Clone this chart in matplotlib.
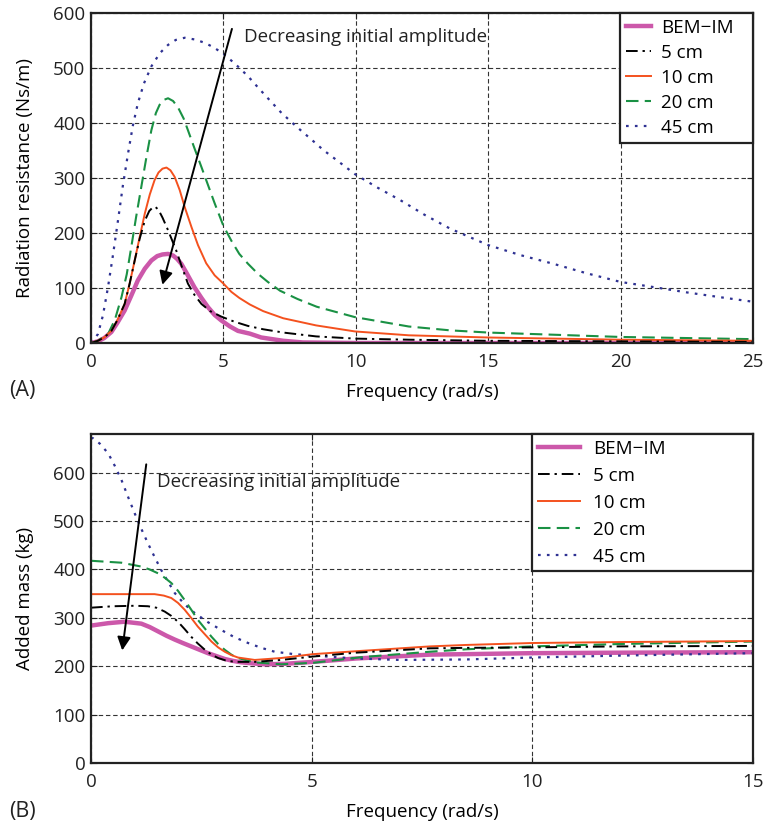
import numpy as np
import matplotlib
matplotlib.use('Agg')
import matplotlib.pyplot as plt

plt.rcParams['font.family'] = ['Open Sans', 'DejaVu Sans']

# --- (A) radiation resistance, Ns/m ---
freq_a_bem = [0, 0.26, 0.5, 0.77, 1.0, 1.27, 1.52, 1.77, 2.03, 2.28, 2.5, 2.7, 2.91, 3.1,
              3.25, 3.41, 3.6, 3.91, 4.17, 4.42, 4.67, 4.92, 5.25, 5.55, 6.0, 6.43, 7.26,
              8.0, 10, 15, 20, 25]
res_bem = [0, 3, 9, 20, 37, 59, 86, 114, 135, 150, 158, 161, 162, 159,
           153, 144, 128, 101, 82, 65, 51, 41, 30, 22, 17, 10, 4,
           1, 0, 0, 0, 0]

freq_a_5 = [0, 0.26, 0.5, 0.77, 1.0, 1.27, 1.46, 1.65, 1.84, 2.03, 2.2, 2.32, 2.42, 2.55,
            2.7, 2.91, 3.22, 3.45, 3.66, 3.9, 4.17, 4.5, 4.92, 5.4, 5.93, 6.5, 7.26, 8.5,
            9.97, 12, 15, 20, 25]
res_5 = [0, 4, 10, 22, 42, 71, 108, 150, 190, 222, 240, 246, 248, 242,
         228, 205, 168, 136, 108, 88, 71, 58, 48, 39, 31, 25, 19, 12,
         8, 6, 4, 3, 2]

freq_a_10 = [0, 0.26, 0.5, 0.77, 1.0, 1.27, 1.46, 1.65, 1.84, 2.03, 2.22, 2.40, 2.55, 2.7,
             2.85, 3.0, 3.16, 3.35, 3.54, 3.8, 4.04, 4.35, 4.67, 5.0, 5.3, 5.6, 6.0, 6.5,
             7.26, 8.5, 9.97, 12, 15, 20, 25]
res_10 = [0, 4, 10, 22, 42, 71, 108, 150, 193, 235, 270, 296, 310, 317,
          319, 314, 302, 278, 247, 210, 178, 145, 123, 108, 93, 82, 70, 58,
          45, 32, 21, 14, 10, 6, 4]

freq_a_20 = [0, 0.26, 0.64, 0.9, 1.15, 1.35, 1.52, 1.7, 1.90, 2.1, 2.28, 2.45, 2.59, 2.75,
             2.91, 3.1, 3.29, 3.5, 3.66, 3.9, 4.17, 4.42, 4.67, 5.0, 5.3, 5.6, 5.93, 6.3,
             6.68, 7.14, 7.8, 8.52, 9.97, 12, 13.56, 15, 17.5, 20, 22.5, 25]
res_20 = [0, 4, 16, 42, 83, 125, 174, 228, 284, 340, 387, 418, 433, 442,
          445, 440, 428, 408, 387, 355, 320, 287, 254, 213, 186, 162, 144, 126,
          111, 95, 80, 66, 47, 30, 23, 19, 15, 11, 9, 7]

freq_a_45 = [0, 0.26, 0.45, 0.64, 0.83, 1.02, 1.2, 1.40, 1.58, 1.77, 2.0, 2.28, 2.6, 2.91,
             3.2, 3.54, 3.9, 4.29, 4.65, 5.05, 5.5, 5.93, 6.3, 6.68, 7.2, 7.77, 8.3, 8.77,
             9.4, 9.97, 10.8, 11.67, 12.6, 13.56, 15, 16.2, 17.46, 18.7, 20, 21.2, 22.5,
             23.8, 25]
res_45 = [0, 16, 50, 101, 160, 223, 285, 345, 395, 436, 472, 503, 527, 542,
          551, 555, 552, 546, 537, 524, 505, 485, 465, 445, 418, 393, 371, 351,
          328, 307, 283, 260, 233, 208, 178, 160, 144, 127, 111, 102, 92,
          83, 75]

# --- (B) added mass, kg ---
freq_b_bem = [0, 0.39, 0.76, 1.14, 1.33, 1.52, 1.71, 1.90, 2.08, 2.27, 2.46, 2.65, 2.84,
              3.03, 3.22, 3.41, 3.65, 3.94, 4.39, 5.03, 6.0, 7.68, 8.5, 10, 12, 15]
mass_bem = [284, 289, 292, 288, 281, 272, 263, 255, 248, 241, 234, 227, 221,
            215, 211, 208, 206, 204, 205, 209, 216, 224, 225, 227, 228, 229]

freq_b_5 = [0, 0.5, 1.0, 1.29, 1.48, 1.67, 1.82, 1.97, 2.12, 2.27, 2.42, 2.58, 2.73,
            2.88, 3.05, 3.26, 3.71, 4.31, 5.03, 6.0, 7.68, 8.5, 10, 12, 15]
mass_5 = [321, 324, 325, 324, 321, 313, 304, 292, 277, 261, 247, 234, 224,
          217, 212, 209, 209, 213, 220, 228, 237, 238, 239, 241, 242]

freq_b_10 = [0, 0.69, 1.44, 1.65, 1.82, 1.97, 2.12, 2.27, 2.42, 2.58, 2.73, 2.88, 3.03,
             3.18, 3.33, 3.71, 4.31, 5.03, 6.0, 7.68, 8.5, 10, 12, 15]
mass_10 = [349, 349, 349, 346, 341, 331, 317, 300, 282, 266, 251, 239, 230,
           223, 218, 213, 217, 225, 231, 241, 244, 248, 250, 252]

freq_b_20 = [0, 0.69, 1.14, 1.33, 1.52, 1.67, 1.82, 1.97, 2.12, 2.27, 2.42, 2.58, 2.73,
             2.88, 3.03, 3.18, 3.33, 3.71, 4.31, 5.03, 6.16, 7.68, 8.5, 10, 12, 15]
mass_20 = [418, 414, 406, 400, 392, 383, 372, 356, 337, 317, 296, 278, 261,
           246, 234, 224, 217, 208, 204, 207, 219, 230, 235, 241, 246, 251]

freq_b_45 = [0, 0.05, 0.2, 0.39, 0.54, 0.69, 0.84, 0.99, 1.14, 1.29, 1.44, 1.59, 1.75,
             1.90, 2.12, 2.35, 2.65, 2.95, 3.25, 3.56, 3.86, 4.16, 4.6, 5.03, 6.0, 7.0,
             8.5, 10, 12, 15]
mass_45 = [672, 671, 660, 640, 614, 585, 550, 516, 484, 454, 426, 399, 374,
           351, 328, 310, 291, 275, 260, 248, 238, 230, 225, 222, 216, 213,
           214, 218, 222, 227]

labels = ['BEM\u2212IM', '5 cm', '10 cm', '20 cm', '45 cm']
colors = ['#cc58aa', 'k', '#f4511e', '#1a9144', '#2e3192']
styles = [dict(lw=3.2, ls='-'),
          dict(lw=1.4, ls=(0, (6, 2.5, 1.2, 2.5))),
          dict(lw=1.4, ls='-'),
          dict(lw=1.5, ls=(0, (6, 3))),
          dict(lw=1.6, ls=(0, (1.2, 2.8)))]

series_a = [(freq_a_bem, res_bem), (freq_a_5, res_5), (freq_a_10, res_10),
            (freq_a_20, res_20), (freq_a_45, res_45)]
series_b = [(freq_b_bem, mass_bem), (freq_b_5, mass_5), (freq_b_10, mass_10),
            (freq_b_20, mass_20), (freq_b_45, mass_45)]

FS = 13.5

fig = plt.figure(figsize=(7.66, 8.25), dpi=100)
ax1 = fig.add_axes([91 / 766, 1 - 343 / 825, 662 / 766, 330 / 825])
ax2 = fig.add_axes([91 / 766, 1 - 763 / 825, 662 / 766, 329 / 825])


def style_axes(ax):
    ax.grid(True, color='0.2', lw=0.8, ls=(0, (4, 2.5)))
    ax.set_axisbelow(True)
    for s in ax.spines.values():
        s.set_linewidth(1.6)
        s.set_color('#222222')
    ax.tick_params(direction='in', length=4, width=0.8, top=True, right=True,
                   labelsize=FS, pad=4, colors='#222222')
    ax.tick_params(axis='x', pad=7)


def draw_series(ax, series):
    handles = [None] * 5
    # thick reference curve underneath, amplitudes on top
    for i in [0, 4, 3, 2, 1]:
        x, y = series[i]
        handles[i], = ax.plot(x, y, color=colors[i], label=labels[i], **styles[i])
    style_axes(ax)
    return handles


h1 = draw_series(ax1, series_a)
h2 = draw_series(ax2, series_b)

# panel A
ax1.set_xlim(0, 25)
ax1.set_ylim(0, 600)
ax1.set_xticks([0, 5, 10, 15, 20, 25])
ax1.set_yticks(np.arange(0, 601, 100))
ax1.set_xlabel('Frequency (rad/s)', fontsize=FS, labelpad=9)
ax1.set_ylabel('Radiation resistance (Ns/m)', fontsize=FS, labelpad=14)
ax1.annotate('', xy=(2.67, 101), xytext=(5.35, 576),
             arrowprops=dict(arrowstyle='-|>', color='k', lw=1.4, mutation_scale=20))
ax1.text(5.78, 557, 'Decreasing initial amplitude', fontsize=FS, va='center', ha='left',
         color='#222222')
leg1 = ax1.legend(h1, labels, loc='upper left', bbox_to_anchor=(0.799, 0, 0.201, 1),
                  mode='expand', borderaxespad=0, fontsize=FS, handlelength=1.35,
                  handletextpad=0.5, labelspacing=0.37, fancybox=False, framealpha=1,
                  edgecolor='#222222', borderpad=0.32)
leg1.get_frame().set_linewidth(1.6)

# panel B
ax2.set_xlim(0, 15)
ax2.set_ylim(0, 680)
ax2.set_xticks([0, 5, 10, 15])
ax2.set_yticks(np.arange(0, 601, 100))
ax2.set_xlabel('Frequency (rad/s)', fontsize=FS, labelpad=9)
ax2.set_ylabel('Added mass (kg)', fontsize=FS, labelpad=14)
ax2.annotate('', xy=(0.70, 227), xytext=(1.26, 623),
             arrowprops=dict(arrowstyle='-|>', color='k', lw=1.4, mutation_scale=20))
ax2.text(1.49, 580, 'Decreasing initial amplitude', fontsize=FS, va='center', ha='left',
         color='#222222')
leg2 = ax2.legend(h2, labels, loc='upper left', bbox_to_anchor=(0.666, 0, 0.334, 1),
                  mode='expand', borderaxespad=0, fontsize=FS, handlelength=2.25,
                  handletextpad=0.7, labelspacing=0.48, fancybox=False, framealpha=1,
                  edgecolor='#222222', borderpad=0.3)
leg2.get_frame().set_linewidth(1.6)

fig.text(22 / 766, 1 - 391 / 825, '(A)', fontsize=15.5, ha='center', va='center', color='#222222')
fig.text(22 / 766, 1 - 812 / 825, '(B)', fontsize=15.5, ha='center', va='center', color='#222222')

fig.savefig('out.png', dpi=100)
